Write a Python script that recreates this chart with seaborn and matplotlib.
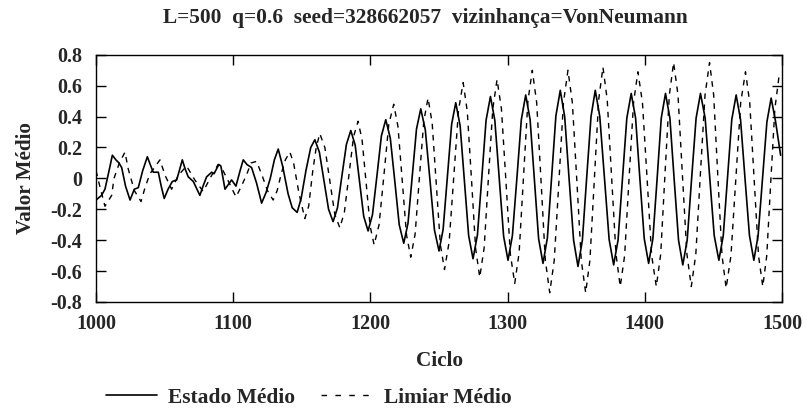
import numpy as np
import pandas as pd
import matplotlib
matplotlib.use("Agg")
import matplotlib.pyplot as plt
import seaborn as sns

titulo = "L=500  q=0.6  seed=328662057  vizinhança=VonNeumann"

# Estado Médio (linha contínua): ciclo, valor
estado_ciclo = [
    1000, 1004, 1006.5, 1009.5, 1011.9, 1014.5, 1016.7, 1018.7, 1021.5, 1024.8,
    1027.9, 1030.8, 1034, 1037.4, 1039.5, 1041.7, 1045.4, 1047.5, 1049.7, 1052.5,
    1055.6, 1058.8, 1062.9, 1065, 1067.2, 1070.9, 1075.7, 1078, 1080.6, 1084.3,
    1086, 1089.5, 1091, 1094, 1098.8, 1102, 1105, 1107.3, 1110, 1113.4,
    1117, 1120.7, 1124, 1127, 1130, 1132.8, 1136, 1140, 1143, 1146.6,
    1149.5, 1153, 1156.5, 1159.5, 1162.8, 1166.2, 1169.5, 1172.8, 1176.0, 1179.2,
    1182.5, 1185.7, 1188.9, 1192.0, 1195.1, 1198.3, 1201.5, 1204.8, 1208.0, 1211.2,
    1214.5, 1217.8, 1221.0, 1224.3, 1227.4, 1230.5, 1233.6, 1236.7, 1240.0, 1243.4,
    1246.7, 1250.0, 1253.0, 1256.1, 1259.2, 1262.2, 1265.4, 1268.5, 1271.6, 1274.8,
    1278.0, 1281.2, 1284.3, 1287.5, 1290.7, 1293.9, 1297.1, 1300.3, 1303.5, 1306.8,
    1310.0, 1313.2, 1316.4, 1319.5, 1322.6, 1325.8, 1329.0, 1332.1, 1335.2, 1338.4,
    1341.6, 1344.8, 1348.1, 1351.3, 1354.5, 1357.6, 1360.8, 1363.9, 1367.2, 1370.6,
    1374.0, 1377.3, 1380.5, 1383.7, 1386.9, 1390.1, 1393.3, 1396.4, 1399.6, 1402.8,
    1405.9, 1409.0, 1412.0, 1415.1, 1418.3, 1421.4, 1424.6, 1427.7, 1430.9, 1434.1,
    1437.4, 1440.6, 1444.0, 1447.3, 1450.6, 1454.0, 1457.2, 1460.3, 1463.4, 1466.6,
    1469.8, 1473.0, 1476.3, 1479.5, 1482.6, 1485.8, 1489.0, 1492.1, 1495.3, 1499,
]
estado_valor = [
    -0.14, -0.11, -0.07, 0.05, 0.15, 0.12, 0.10, 0.07, -0.05, -0.14,
    -0.07, -0.06, 0.05, 0.14, 0.09, 0.04, 0.04, -0.05, -0.13, -0.07,
    -0.02, -0.01, 0.12, 0.06, 0.01, -0.02, -0.11, -0.05, 0.01, 0.04,
    0.03, 0.09, 0.08, -0.07, -0.01, -0.05, 0.05, 0.12, 0.09, 0.07,
    -0.03, -0.16, -0.09, 0.00, 0.12, 0.19, 0.08, -0.10, -0.19, -0.22,
    -0.13, 0.05, 0.20, 0.25, 0.17, -0.02, -0.20, -0.28, -0.19, 0.015,
    0.22, 0.31, 0.215, -0.015, -0.245, -0.34, -0.235, 0.02, 0.275, 0.38,
    0.26, -0.02, -0.30, -0.42, -0.29, 0.015, 0.32, 0.45, 0.315, -0.01,
    -0.335, -0.47, -0.33, 0.01, 0.35, 0.49, 0.34, -0.015, -0.37, -0.52,
    -0.366, 0.005, 0.376, 0.53, 0.375, 0.0, -0.375, -0.53, -0.37, 0.005,
    0.38, 0.54, 0.38, -0.005, -0.39, -0.55, -0.385, 0.01, 0.405, 0.57,
    0.40, 0.0, -0.40, -0.57, -0.40, 0.0, 0.40, 0.57, 0.40, 0.005,
    -0.395, -0.56, -0.40, -0.005, 0.39, 0.55, 0.39, 0.0, -0.39, -0.55,
    -0.39, 0.0, 0.39, 0.55, 0.39, -0.005, -0.40, -0.56, -0.40, -0.005,
    0.39, 0.55, 0.39, 0.01, -0.37, -0.53, -0.37, 0.005, 0.38, 0.54,
    0.38, 0.005, -0.37, -0.53, -0.37, -0.005, 0.365, 0.52, 0.37, 0.15,
]

# Limiar Médio (linha tracejada)
limiar_ciclo = [
    1000, 1003, 1006.5, 1011.4, 1013.1, 1017, 1021.1, 1023.5, 1028, 1032.8,
    1035.7, 1039.3, 1046.6, 1050.3, 1055.1, 1060, 1066, 1072, 1078.1, 1084.3,
    1089, 1092, 1096, 1102, 1106, 1110, 1113, 1117, 1121, 1125,
    1129.1, 1132, 1135, 1138, 1141.3, 1144, 1148, 1152.2, 1155, 1158,
    1160.5, 1163.1, 1166.8, 1170.4, 1174.0, 1177.7, 1181.0, 1184.4, 1187.7, 1191.0,
    1193.9, 1196.9, 1199.8, 1202.7, 1206.3, 1209.9, 1213.4, 1217.0, 1220.1, 1223.2,
    1226.3, 1229.4, 1232.6, 1235.7, 1238.9, 1242.0, 1245.0, 1248.0, 1251.0, 1254.0,
    1257.4, 1260.8, 1264.2, 1267.6, 1270.6, 1273.7, 1276.7, 1279.7, 1282.9, 1286.0,
    1289.2, 1292.3, 1295.5, 1298.8, 1302.0, 1305.2, 1308.4, 1311.6, 1314.8, 1318.0,
    1321.2, 1324.4, 1327.5, 1330.7, 1334.0, 1337.4, 1340.7, 1344.0, 1347.2, 1350.5,
    1353.7, 1356.9, 1360.0, 1363.2, 1366.4, 1369.5, 1372.6, 1375.8, 1379.0, 1382.1,
    1385.3, 1388.5, 1391.8, 1395.0, 1398.3, 1401.7, 1405.0, 1408.4, 1411.6, 1414.7,
    1417.9, 1421.0, 1424.2, 1427.4, 1430.7, 1433.9, 1437.2, 1440.5, 1443.9, 1447.2,
    1450.2, 1453.2, 1456.3, 1459.3, 1462.8, 1466.3, 1469.9, 1473.4, 1476.5, 1479.7,
    1482.9, 1486.0, 1488.9, 1491.8, 1494.8, 1497.7, 1500,
]
limiar_valor = [
    0.05, -0.06, -0.18, -0.11, 0.00, 0.10, 0.17, 0.06, -0.08, -0.15,
    -0.06, 0.03, 0.12, 0.02, -0.07, 0.02, 0.08, -0.01, -0.085, 0.02,
    0.09, 0.06, -0.01, -0.12, -0.05, 0.03, 0.10, 0.11, 0.02, -0.08,
    -0.14, -0.08, 0.03, 0.12, 0.17, 0.10, -0.10, -0.26, -0.18, 0.05,
    0.20, 0.29, 0.20, -0.015, -0.23, -0.32, -0.22, 0.025, 0.27, 0.37,
    0.25, -0.03, -0.31, -0.43, -0.30, 0.025, 0.35, 0.48, 0.335, -0.015,
    -0.365, -0.51, -0.36, 0.005, 0.37, 0.52, 0.36, -0.035, -0.43, -0.59,
    -0.41, 0.015, 0.44, 0.62, 0.435, -0.01, -0.455, -0.64, -0.45, 0.0,
    0.45, 0.64, 0.45, -0.02, -0.49, -0.68, -0.48, 0.01, 0.50, 0.70,
    0.49, -0.02, -0.53, -0.74, -0.53, -0.02, 0.49, 0.70, 0.49, -0.02,
    -0.53, -0.74, -0.53, -0.01, 0.51, 0.72, 0.51, 0.01, -0.49, -0.70,
    -0.50, -0.005, 0.49, 0.69, 0.49, -0.005, -0.50, -0.70, -0.49, 0.025,
    0.54, 0.75, 0.54, 0.025, -0.49, -0.70, -0.49, 0.025, 0.54, 0.75,
    0.54, 0.02, -0.50, -0.71, -0.50, -0.01, 0.49, 0.69, 0.49, -0.005,
    -0.50, -0.70, -0.50, -0.025, 0.45, 0.65, 0.63,
]

sns.set_style("ticks")
plt.rcParams['font.family'] = ['Liberation Serif', 'DejaVu Serif']
plt.rcParams['font.weight'] = 'bold'
plt.rcParams['axes.unicode_minus'] = False

df_estado = pd.DataFrame({'Ciclo': estado_ciclo, 'Valor': estado_valor})
df_limiar = pd.DataFrame({'Ciclo': limiar_ciclo, 'Valor': limiar_valor})

fig = plt.figure(figsize=(8.07, 4.12), dpi=100)
ax = fig.add_axes([0.119, 0.267, 0.850, 0.600])

sns.lineplot(data=df_estado, x='Ciclo', y='Valor', ax=ax, color='black',
             linewidth=1.2, label='Estado Médio')
sns.lineplot(data=df_limiar, x='Ciclo', y='Valor', ax=ax, color='black',
             linewidth=1.0, dashes=False, label='Limiar Médio')
ax.lines[1].set_dashes([4, 4])

ax.set_xlim(1000, 1500)
ax.set_ylim(-0.8, 0.8)
ax.set_xticks([1000, 1100, 1200, 1300, 1400, 1500])
ax.set_yticks([-0.8, -0.6, -0.4, -0.2, 0, 0.2, 0.4, 0.6, 0.8])
ax.set_yticklabels([f"{v:g}" for v in ax.get_yticks()])
ax.tick_params(direction='in', length=7, width=1, top=True, right=True,
               labelsize=14.5, color='black')
ax.tick_params(axis='y', pad=10)
ax.tick_params(axis='x', pad=9)
for s in ax.spines.values():
    s.set_linewidth(1.0)
    s.set_color('black')

ax.set_xlabel('Ciclo', fontsize=15.3, fontweight='bold', labelpad=12)
ax.set_ylabel('Valor Médio', fontsize=15.2, fontweight='bold', labelpad=10)
ax.set_title(titulo, fontsize=15.4, fontweight='bold', pad=23, x=0.48)

ax.get_legend().remove()
h, l = ax.get_legend_handles_labels()
leg = fig.legend(h, l, loc='center left', bbox_to_anchor=(0.131, 0.035), ncol=2,
                 frameon=False, fontsize=15.5, handlelength=2.4, columnspacing=1.2,
                 handletextpad=0.5, borderpad=0, borderaxespad=0)
leg.get_lines()[1].set_dashes([4, 6])

fig.savefig('out.png', dpi=100)
